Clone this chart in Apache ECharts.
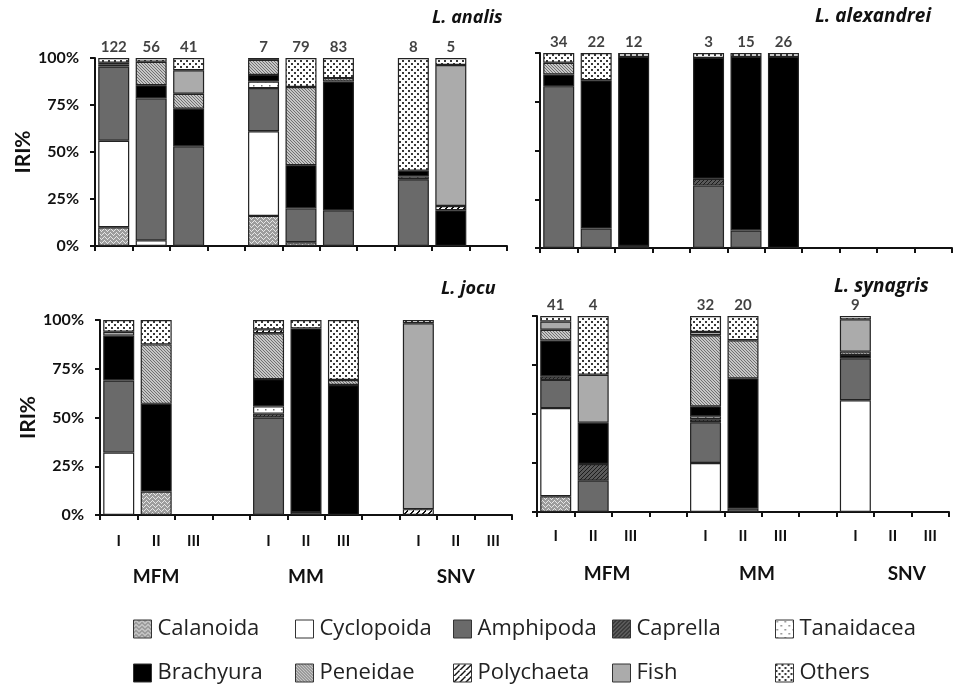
<!DOCTYPE html>
<html>
<head>
<meta charset="utf-8">
<script src="https://cdn.jsdelivr.net/npm/echarts@6/dist/echarts.min.js"></script>
<style>
html,body{margin:0;padding:0;background:#fff;}
#chart{width:966px;height:686px;}
</style>
</head>
<body>
<div id="chart"></div>
<script>
// ---- data ----
const slots = ['I','II','III','','I','II','III','','I','II','III'];
const groups = ['MFM','MM','SNV'];
const groupSlotIndex = [1,5,9];
const prey = ['Calanoida','Cyclopoida','Amphipoda','Caprella','Tanaidacea','Brachyura','Peneidae','Polychaeta','Fish','Others'];
const species = ['L. analis','L. alexandrei','L. jocu','L. synagris'];

// each row: IRI% per prey (order of prey) for one bar; null = no bar
const analisIRI = [
  [10, 46, 39.5, 0, 0, 1, 1, 0, 0, 2.5],
  [0, 3, 75.5, 0, 0, 7, 12.5, 0, 0, 2],
  [0, 0, 53, 0, 0, 20, 8, 0, 12.5, 6.5],
  null,
  [16, 45, 23, 0, 3.5, 3.5, 8, 0, 0, 1],
  [2, 0, 18, 0, 0, 23, 41.6, 0, 0, 15.4],
  [0, 0, 19, 0, 0, 68.5, 1.8, 0, 0, 10.7],
  null,
  [0, 0, 35.5, 0, 1.5, 3, 0, 0, 0, 60],
  [0, 0, 0, 0, 0, 19, 0, 2.3, 75, 3.7],
  null
];
const analisN = [122, 56, 41, null, 7, 79, 83, null, 8, 5, null];

const alexandreiIRI = [
  [0, 0, 83, 0, 0, 6, 6, 0, 0, 5],
  [0, 0, 10, 0, 0, 76, 0, 0, 0, 14],
  [0, 0, 1, 0, 0, 97, 0, 0, 0, 2],
  null,
  [0, 0, 32, 3.5, 0, 62, 0, 0, 0, 2.5],
  [0, 0, 9, 0, 0, 89, 0, 0, 0, 2],
  [0, 0, 0, 0, 0, 98, 0, 0, 0, 2],
  null, null, null, null
];
const alexandreiN = [34, 22, 12, null, 3, 15, 26, null, null, null, null];

const jocuIRI = [
  [0, 32, 37, 0, 0, 23, 0, 0, 2, 6],
  [12, 0, 0, 0, 0, 45, 30.5, 0, 0, 12.5],
  null,
  null,
  [0, 0, 50, 2, 3.7, 14, 23.5, 2, 0, 4.8],
  [0, 0, 1.5, 0, 0, 94.2, 0, 0, 0, 4.3],
  [0, 0, 0, 0, 0, 66.7, 2.5, 0, 0, 30.8],
  null,
  [0, 0, 0, 0, 0, 0, 0, 3, 95.3, 1.7],
  null, null
];
const jocuN = [null, null, null, null, null, null, null, null, null, null, null];

const synagrisIRI = [
  [8, 45, 14.4, 1.8, 0, 18.3, 5.5, 0, 4.2, 2.8],
  [0, 0, 16, 8.5, 0, 21, 0, 0, 24.5, 30],
  null,
  null,
  [0, 25, 20.8, 1.5, 1.5, 5.1, 36.3, 0, 1.7, 8.1],
  [0, 0, 1.7, 0, 0, 66.5, 19.4, 0, 0, 12.4],
  null,
  null,
  [0, 57, 21.4, 0, 0, 1.7, 1.7, 0, 16.5, 1.7],
  null, null
];
const synagrisN = [41, 4, null, null, 32, 20, null, null, 9, null, null];

const yTicks = [0, 25, 50, 75, 100];

// ---- patterns ----
function tile(w, h, draw) {
  const c = document.createElement('canvas');
  c.width = w; c.height = h;
  const g = c.getContext('2d');
  draw(g, w, h);
  return { image: c, repeat: 'repeat' };
}
function diag(g, n, col, up) {
  g.fillStyle = col;
  for (let i = 0; i < n; i++) g.fillRect(i, up ? n - 1 - i : i, 1, 1);
}
const fills = [
  tile(6, 4, (g) => { g.fillStyle = '#9c9c9c'; g.fillRect(0,0,6,4);
    g.fillStyle = '#e6e6e6'; g.fillRect(0,2,1,1); g.fillRect(1,1,1,1); g.fillRect(2,0,1,1); g.fillRect(3,1,1,1); g.fillRect(4,2,1,1); g.fillRect(5,3,1,1); }),
  '#ffffff',
  '#6a6a6a',
  tile(4, 4, (g) => { g.fillStyle = '#5a5a5a'; g.fillRect(0,0,4,4); diag(g, 4, '#1c1c1c', true); }),
  tile(8, 8, (g) => { g.fillStyle = '#ffffff'; g.fillRect(0,0,8,8); g.fillStyle = '#7a7a7a'; g.fillRect(1,1,1.5,1.5); g.fillRect(5,5,1.5,1.5); }),
  '#000000',
  tile(3, 3, (g) => { g.fillStyle = '#c6c6c6'; g.fillRect(0,0,3,3); diag(g, 3, '#707070', false); }),
  tile(6, 6, (g) => { g.fillStyle = '#ffffff'; g.fillRect(0,0,6,6); g.fillStyle = '#111';
    for (let i = 0; i < 6; i++) { g.fillRect(i, 5 - i, 2, 1); } }),
  '#ababab',
  tile(6, 6, (g) => { g.fillStyle = '#ffffff'; g.fillRect(0,0,6,6); g.fillStyle = '#3a3a3a'; g.fillRect(0,0,2,2); g.fillRect(3,3,2,2); })
];

// ---- layout ----
const panels = [
  { iri: analisIRI, n: analisN, grid: { left: 95, top: 58, width: 412, height: 188 }, yLabels: true, xLabels: false, xMargin: 0, groupShift: 0, title: { left: 432, top: 9, size: 18 } },
  { iri: alexandreiIRI, n: alexandreiN, grid: { left: 540, top: 53, width: 412, height: 195 }, yLabels: false, xLabels: false, xMargin: 0, groupShift: 0, title: { left: 815, top: 7, size: 19 } },
  { iri: jocuIRI, n: jocuN, grid: { left: 100, top: 320, width: 412, height: 195 }, yLabels: true, xLabels: true, xMargin: 19, groupShift: 0, title: { left: 441, top: 280, size: 18 } },
  { iri: synagrisIRI, n: synagrisN, grid: { left: 537, top: 316, width: 412, height: 196 }, yLabels: false, xLabels: true, xMargin: 17, groupShift: 28, title: { left: 834, top: 277, size: 19 } }
];

const FONT = 'Lato';
const grids = [], xAxes = [], yAxes = [], series = [], titles = [];
panels.forEach((p, pi) => {
  grids.push(Object.assign({ containLabel: false }, p.grid));
  const mainX = xAxes.length;
  xAxes.push({
    type: 'category', gridIndex: pi, data: slots,
    axisLine: { lineStyle: { color: '#111', width: 2 } },
    axisTick: { show: true, length: 5, interval: 0, lineStyle: { color: '#111', width: 2 } },
    axisLabel: { show: p.xLabels, interval: 0, margin: p.xMargin, fontFamily: FONT, fontWeight: 'bold', fontSize: 15, color: '#111' },
    splitLine: { show: false }
  });
  if (p.xLabels) {
    xAxes.push({
      type: 'category', gridIndex: pi, position: 'bottom',
      data: slots.map((s, i) => { const g = groupSlotIndex.indexOf(i); return g >= 0 ? groups[g] : ''; }),
      axisLine: { show: false }, axisTick: { show: false },
      axisLabel: { interval: 0, margin: 52, padding: [0, 0, 0, p.groupShift], fontFamily: FONT, fontWeight: 'bold', fontSize: 19, color: '#111' }
    });
  }
  yAxes.push({
    type: 'value', gridIndex: pi, min: 0, max: 100, interval: 25,
    name: p.yLabels ? 'IRI%' : '', nameLocation: 'middle', nameGap: p.grid.left - 42,
    nameTextStyle: { fontFamily: FONT, fontWeight: 'bold', fontSize: 21, color: '#111' },
    axisLine: { show: true, lineStyle: { color: '#111', width: 2 } },
    axisTick: { show: true, length: 5, lineStyle: { color: '#111', width: 2 } },
    axisLabel: { show: p.yLabels, margin: 16, formatter: (v) => yTicks.includes(v) ? v + '%' : '', fontFamily: FONT, fontWeight: 'bold', fontSize: 16, color: '#111' },
    splitLine: { show: false }
  });
  prey.forEach((name, k) => {
    series.push({
      type: 'bar', name: name, stack: 'p' + pi, xAxisIndex: mainX, yAxisIndex: pi,
      barWidth: 31,
      data: p.iri.map(r => (r && r[k]) ? r[k] : null),
      itemStyle: { color: fills[k], borderColor: '#222', borderWidth: 1.2 },
      emphasis: { disabled: true },
      animation: false
    });
  });
  series.push({
    type: 'scatter', xAxisIndex: mainX, yAxisIndex: pi, symbolSize: 1,
    itemStyle: { color: 'rgba(0,0,0,0)' }, silent: true, animation: false,
    data: p.n.map(v => v == null ? null : 100),
    label: { show: true, position: 'top', distance: 3, formatter: (q) => String(p.n[q.dataIndex]),
      fontFamily: FONT, fontWeight: 'bold', fontSize: 15, color: '#111' }
  });
  titles.push({ text: species[pi], left: p.title.left, top: p.title.top, padding: 0,
    textStyle: { fontFamily: 'Open Sans', fontStyle: 'italic', fontWeight: 'bold', fontSize: p.title.size, color: '#111' } });
});

// legend: two rows x five columns
const legendCols = [133, 295, 453, 612, 775];
const legendRows = [618, 662];
const legends = prey.map((name, k) => ({
  data: [name], left: legendCols[k % 5], top: legendRows[Math.floor(k / 5)],
  padding: 0, itemWidth: 18, itemHeight: 18, icon: 'rect', selectedMode: false,
  itemStyle: { borderColor: '#333', borderWidth: 1 },
  textStyle: { fontFamily: 'Open Sans', fontSize: 22, color: '#222', padding: [0, 0, 0, 1] }
}));

const chart = echarts.init(document.getElementById('chart'), null, { renderer: 'canvas' });
chart.setOption({
  backgroundColor: '#ffffff',
  animation: false,
  title: titles,
  legend: legends,
  grid: grids,
  xAxis: xAxes,
  yAxis: yAxes,
  series: series
});
</script>
</body>
</html>
